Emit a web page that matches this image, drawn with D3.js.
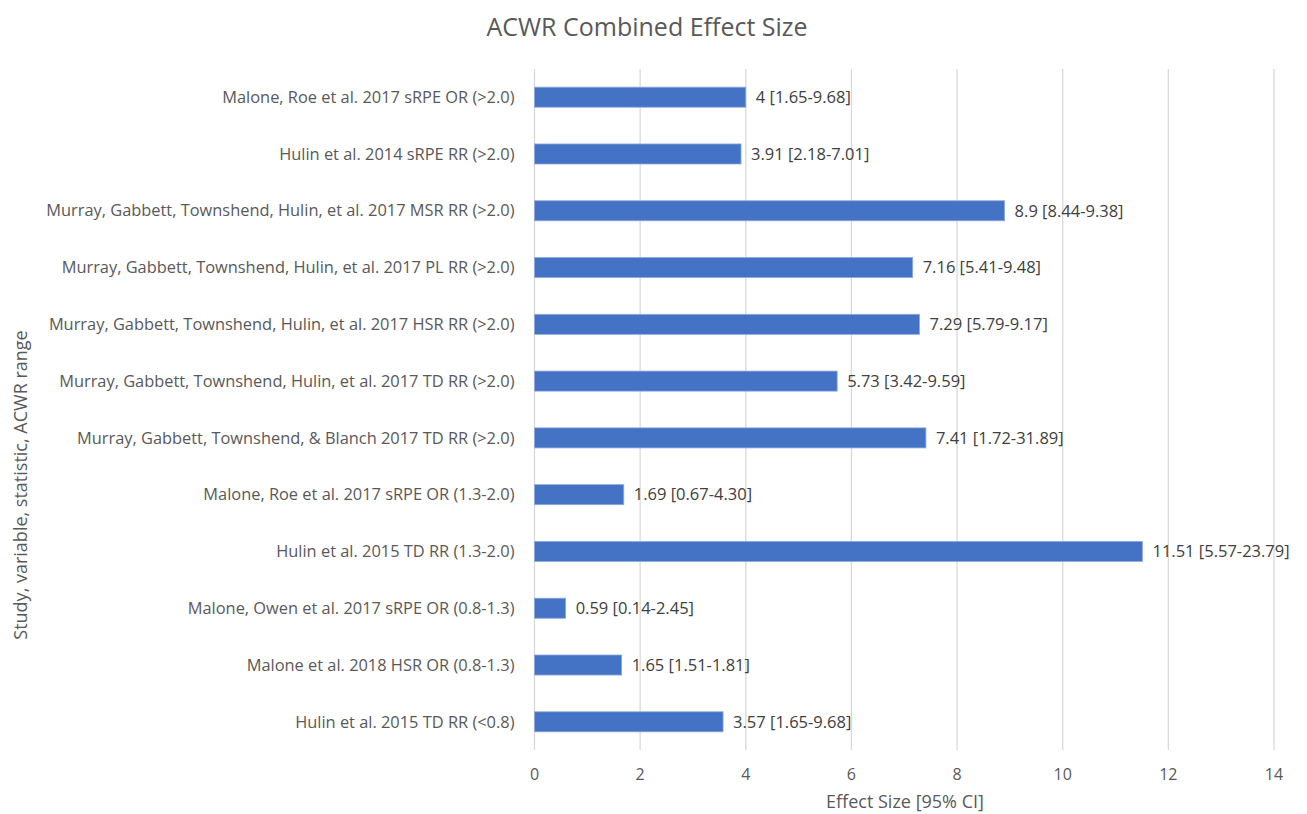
<!DOCTYPE html>
<html>
<head>
<meta charset="utf-8">
<script src="https://cdn.jsdelivr.net/npm/d3@7"></script>
<style>
  body { margin: 0; background: #fff; }
  text { font-family: "Open Sans", sans-serif; fill: #595959; }
</style>
</head>
<body>
<script>
const studies = [
  "Malone, Roe et al. 2017 sRPE OR (>2.0)",
  "Hulin et al. 2014 sRPE RR (>2.0)",
  "Murray, Gabbett, Townshend, Hulin, et al. 2017 MSR RR (>2.0)",
  "Murray, Gabbett, Townshend, Hulin, et al. 2017 PL RR (>2.0)",
  "Murray, Gabbett, Townshend, Hulin, et al. 2017 HSR RR (>2.0)",
  "Murray, Gabbett, Townshend, Hulin, et al. 2017 TD RR (>2.0)",
  "Murray, Gabbett, Townshend, & Blanch 2017 TD RR (>2.0)",
  "Malone, Roe et al. 2017 sRPE OR (1.3-2.0)",
  "Hulin et al. 2015 TD RR (1.3-2.0)",
  "Malone, Owen et al. 2017 sRPE OR (0.8-1.3)",
  "Malone et al. 2018 HSR OR (0.8-1.3)",
  "Hulin et al. 2015 TD RR (<0.8)"
]
const effects = [4, 3.91, 8.9, 7.16, 7.29, 5.73, 7.41, 1.69, 11.51, 0.59, 1.65, 3.57]
const ciLabels = [
  "4 [1.65-9.68]", "3.91 [2.18-7.01]", "8.9 [8.44-9.38]", "7.16 [5.41-9.48]",
  "7.29 [5.79-9.17]", "5.73 [3.42-9.59]", "7.41 [1.72-31.89]", "1.69 [0.67-4.30]",
  "11.51 [5.57-23.79]", "0.59 [0.14-2.45]", "1.65 [1.51-1.81]", "3.57 [1.65-9.68]"
]
const xTicks = [0, 2, 4, 6, 8, 10, 12, 14]

const width = 1307, height = 814
const margin = { top: 69, right: 33, bottom: 64, left: 534.5 }

const svg = d3.select("body").append("svg")
  .attr("width", width)
  .attr("height", height)

const x = d3.scaleLinear().domain([0, 14]).range([margin.left, width - margin.right])
const y = d3.scaleBand().domain(studies).range([margin.top, height - margin.bottom]).paddingInner(0.647).paddingOuter(0.32)

// gridlines
svg.append("g")
  .selectAll("line")
  .data(xTicks)
  .enter().append("line")
  .attr("x1", d => x(d)).attr("x2", d => x(d))
  .attr("y1", margin.top).attr("y2", height - margin.bottom)
  .attr("stroke", "#d9d9d9")
  .attr("stroke-width", 1.3)

// bars
svg.append("g")
  .selectAll("rect")
  .data(studies)
  .enter().append("rect")
  .attr("x", x(0))
  .attr("y", d => y(d))
  .attr("width", (d, i) => x(effects[i]) - x(0))
  .attr("height", y.bandwidth())
  .attr("fill", "#4472c4")
  .attr("stroke", "#8faadc")
  .attr("stroke-width", 0.8)

// data labels
svg.append("g")
  .selectAll("text")
  .data(studies)
  .enter().append("text")
  .attr("x", (d, i) => x(effects[i]) + 10)
  .attr("y", d => y(d) + y.bandwidth() / 2)
  .attr("dy", "0.35em")
  .attr("font-size", 16.5)
  .style("fill", "#404040")
  .text((d, i) => ciLabels[i])

// category labels
svg.append("g")
  .selectAll("text")
  .data(studies)
  .enter().append("text")
  .attr("x", margin.left - 20)
  .attr("y", d => y(d) + y.bandwidth() / 2)
  .attr("dy", "0.35em")
  .attr("text-anchor", "end")
  .attr("font-size", 16.4)
  .text(d => d)

// x tick labels
svg.append("g")
  .selectAll("text")
  .data(xTicks)
  .enter().append("text")
  .attr("x", d => x(d))
  .attr("y", 774)
  .attr("dy", "0.35em")
  .attr("text-anchor", "middle")
  .attr("font-size", 16)
  .text(d => d)

// title
svg.append("text")
  .attr("x", 647)
  .attr("y", 27)
  .attr("dy", "0.35em")
  .attr("text-anchor", "middle")
  .attr("font-size", 25)
  .text("ACWR Combined Effect Size")

// axis titles
svg.append("text")
  .attr("x", 905)
  .attr("y", 802)
  .attr("dy", "0.35em")
  .attr("text-anchor", "middle")
  .attr("font-size", 18)
  .text("Effect Size [95% CI]")

svg.append("text")
  .attr("transform", "translate(21,485) rotate(-90)")
  .attr("dy", "0.35em")
  .attr("text-anchor", "middle")
  .attr("font-size", 18)
  .text("Study, variable, statistic, ACWR range")
</script>
</body>
</html>
